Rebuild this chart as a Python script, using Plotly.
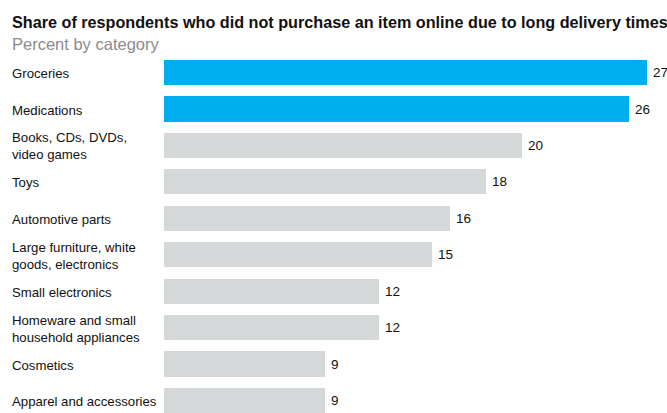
import plotly.graph_objects as go

# Survey results: share of respondents who skipped an online purchase due to long delivery times
categories = [
    "Groceries",
    "Medications",
    "Books, CDs, DVDs,<br>video games",
    "Toys",
    "Automotive parts",
    "Large furniture, white<br>goods, electronics",
    "Small electronics",
    "Homeware and small<br>household appliances",
    "Cosmetics",
    "Apparel and accessories",
]
values = [27, 26, 20, 18, 16, 15, 12, 12, 9, 9]
highlighted = [True, True, False, False, False, False, False, False, False, False]

title_text = "Share of respondents who did not purchase an item online due to long delivery times"
subtitle_text = "Percent by category"

BLUE = "#00ADEF"
GREY = "#D5D8D8"
FONT = "Liberation Sans, Arial, Helvetica, sans-serif"

positions = list(range(len(categories)))
colors = [BLUE if h else GREY for h in highlighted]

fig = go.Figure(
    go.Bar(
        x=values,
        y=positions,
        orientation="h",
        marker=dict(color=colors, line=dict(width=0)),
        width=0.69,
        hoverinfo="skip",
    )
)

# Value labels just past the end of each bar
for pos, v in zip(positions, values):
    fig.add_annotation(
        x=v, xref="x", xanchor="left", xshift=4,
        y=pos, yref="y", yanchor="middle",
        text=str(v), showarrow=False,
        font=dict(size=13.5, color="#111111", family=FONT),
    )

# Left-aligned category labels
for pos, cat in zip(positions, categories):
    fig.add_annotation(
        x=0, xref="paper", xanchor="left", xshift=-154,
        y=pos, yref="y", yanchor="middle", yshift=-1,
        text=cat, showarrow=False, align="left",
        font=dict(size=13.2, color="#111111", family=FONT),
    )

# Title and subtitle
fig.add_annotation(
    x=0, xref="paper", xanchor="left", xshift=-154,
    y=1, yref="paper", yanchor="bottom", yshift=27,
    text="<b>" + title_text + "</b>", showarrow=False, align="left",
    font=dict(size=16.2, color="#111111", family=FONT),
)
fig.add_annotation(
    x=0, xref="paper", xanchor="left", xshift=-154,
    y=1, yref="paper", yanchor="bottom", yshift=5,
    text=subtitle_text, showarrow=False, align="left",
    font=dict(size=16.5, color="#8C8C8C", family=FONT),
)

fig.update_layout(
    width=667, height=413,
    margin=dict(l=164, r=4, t=60, b=0),
    paper_bgcolor="white", plot_bgcolor="white",
    showlegend=False,
    bargap=0,
    xaxis=dict(range=[0, 27.9], visible=False, fixedrange=True),
    yaxis=dict(range=[9.345, -0.345], visible=False, fixedrange=True),
    font=dict(family=FONT),
)

fig.write_html("out.html", config={"displayModeBar": False})
